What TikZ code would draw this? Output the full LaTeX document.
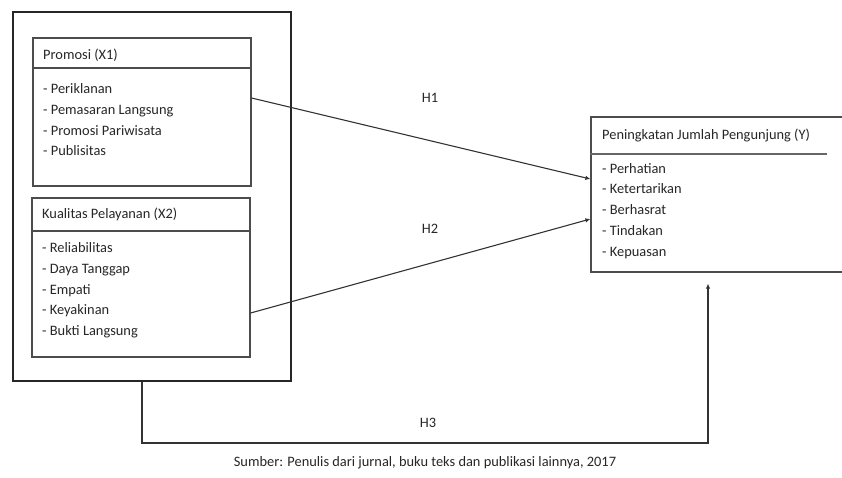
\documentclass[tikz,border=0pt]{standalone}
\usepackage{fontspec}
\setmainfont{Carlito}
\usetikzlibrary{positioning, arrows.meta, calc}

\begin{document}
\begin{tikzpicture}[
    x=1pt, y=-1pt,
    font=\fontsize{14.4}{20.7}\selectfont,
    frame/.style={rectangle, draw=black!85, line width=2pt, inner sep=0pt},
    var/.style={rectangle, draw=black!70, line width=1.2pt, inner sep=0pt},
    hd/.style={anchor=west, inner sep=0pt, text=black!85},
    itm/.style={anchor=north west, align=left, inner sep=0pt, text=black!85},
    hyp/.style={inner sep=0pt, text=black!85},
    ar/.style={-{Latex[length=5pt,width=4.5pt]}, line width=1.1pt, draw=black!80}
]
\useasboundingbox (0,0) rectangle (842,477);

\node[frame, minimum width=278pt, minimum height=369pt] (outer) at (152,196.5) {};
\node[var, minimum width=218pt, minimum height=148pt] (x1) at (142,112) {};
\node[var, minimum width=218pt, minimum height=159pt] (x2) at (141,277.5) {};
\node[var, minimum width=255pt, minimum height=155pt] (ybox) at (718.5,194.5) {};

\draw[black!70, line width=1.2pt] (x1.west |- 0,68) -- (x1.east |- 0,68);
\draw[black!70, line width=1.2pt] (x2.west |- 0,231) -- (x2.east |- 0,231);
\draw[black!60, line width=2pt] (ybox.west |- 0,154) -- (827,154);

\node[hd] (x1h) at (43,55) {Promosi (X1)};
\node[itm] (x1i) at (43,83.5) {- Periklanan\\- Pemasaran Langsung\\- Promosi Pariwisata\\- Publisitas};
\node[hd] (x2h) at (42,214) {Kualitas Pelayanan (X2)};
\node[itm] (x2i) at (42,242.5) {- Reliabilitas\\- Daya Tanggap\\- Empati\\- Keyakinan\\- Bukti Langsung};
\node[hd] (yh) at (602,135) {Peningkatan Jumlah Pengunjung (Y)};
\node[itm] (yi) at (602,163) {- Perhatian\\- Ketertarikan\\- Berhasrat\\- Tindakan\\- Kepuasan};

\node[hyp] (h1) at (430,98) {H1};
\node[hyp] (h2) at (430,229) {H2};
\node[hyp] (h3) at (428,423) {H3};
\node[hyp] (src) at (425,463) {Sumber: Penulis dari jurnal, buku teks dan publikasi lainnya, 2017};

\draw[ar] ([yshift=14pt]x1.east) -- ([yshift=15.5pt]ybox.west);
\draw[ar] ([yshift=-35.5pt]x2.east) -- ([yshift=-24.5pt]ybox.west);
\draw[ar] ([xshift=-10pt]outer.south) -- ++(0,61) -| ([xshift=-10.5pt,yshift=-11pt]ybox.south);
\end{tikzpicture}
\end{document}
